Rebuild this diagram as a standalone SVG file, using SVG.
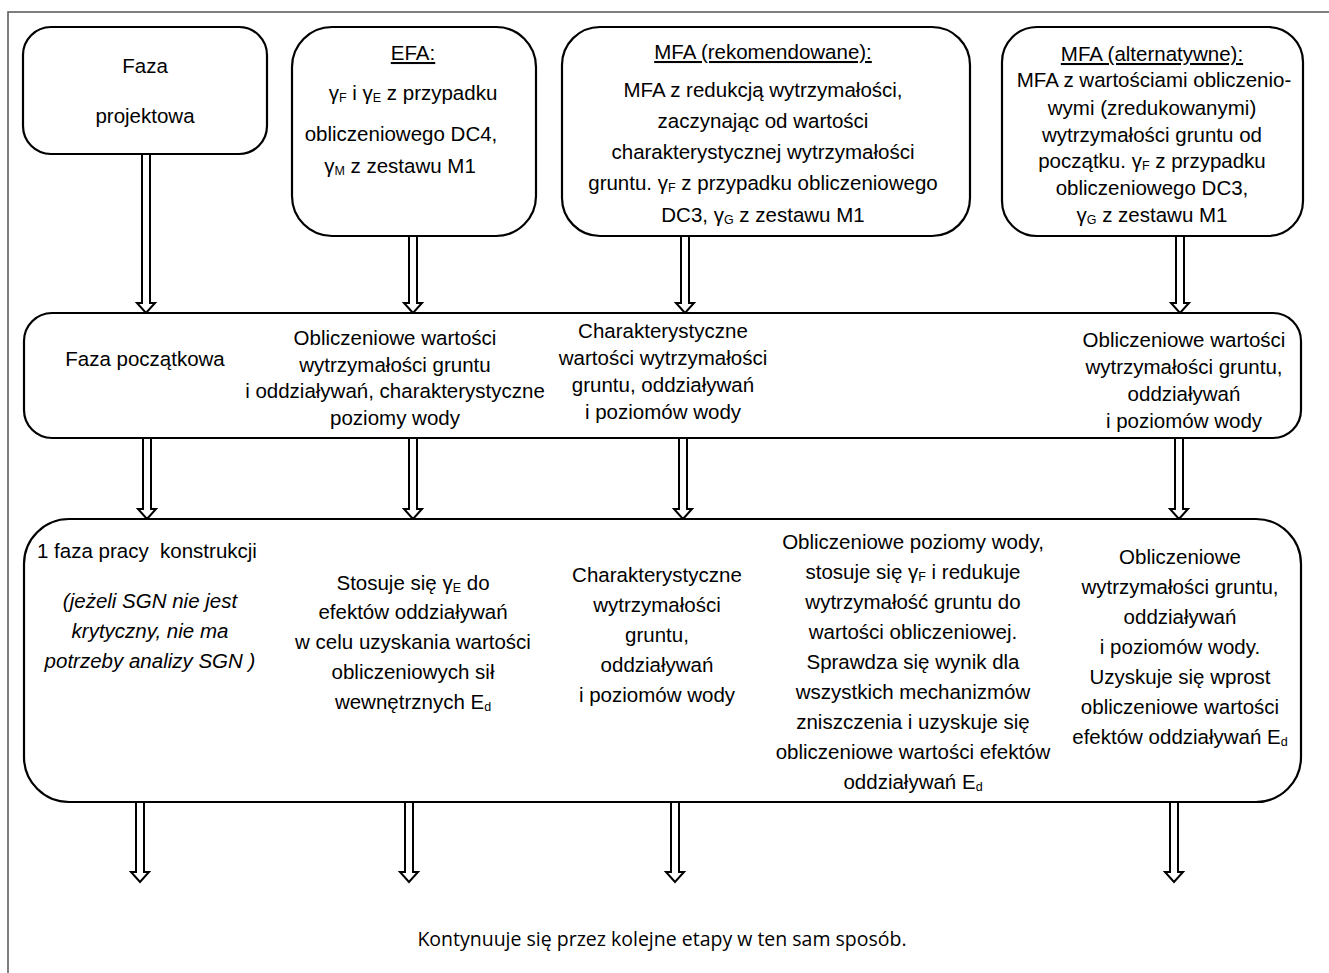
<svg xmlns="http://www.w3.org/2000/svg" width="1329" height="973" viewBox="0 0 1329 973">
<style>
.box{fill:#fff;stroke:#000;stroke-width:2.2}
.arr{fill:#fff;stroke:#000;stroke-width:2;stroke-linejoin:miter}
.frame{fill:none;stroke:#555;stroke-width:1.5}
text{font-family:"Liberation Sans",Arial,sans-serif;font-size:20.5px;fill:#000}
.c{text-anchor:middle}
.u{text-decoration:underline}
.i{font-style:italic}
.s{font-size:12.5px;baseline-shift:-2px}
.big{font-family:"Open Sans","Liberation Sans",sans-serif;font-size:19.5px}
</style>
<rect width="1329" height="973" fill="#fff"/>
<g id="frame"><path class="frame" d="M8 973 V12 H1329"/></g>

<g id="connectors">
<path class="arr" d="M142 154 V303 H137 L146 313 L155 303 H150 V154 Z"/>
<path class="arr" d="M409 236 V303 H404 L413 313 L422 303 H417 V236 Z"/>
<path class="arr" d="M681 236 V303 H676 L685 313 L694 303 H689 V236 Z"/>
<path class="arr" d="M1176 236 V303 H1171 L1180 313 L1189 303 H1184 V236 Z"/>
<path class="arr" d="M143 438 V509 H138 L147 519 L156 509 H151 V438 Z"/>
<path class="arr" d="M409 438 V509 H404 L413 519 L422 509 H417 V438 Z"/>
<path class="arr" d="M679 438 V509 H674 L683 519 L692 509 H687 V438 Z"/>
<path class="arr" d="M1175 438 V509 H1170 L1179 519 L1188 509 H1183 V438 Z"/>
<path class="arr" d="M136 802 V872 H131 L140 882 L149 872 H144 V802 Z"/>
<path class="arr" d="M405 802 V872 H400 L409 882 L418 872 H413 V802 Z"/>
<path class="arr" d="M671 802 V872 H666 L675 882 L684 872 H679 V802 Z"/>
<path class="arr" d="M1170 802 V872 H1165 L1174 882 L1183 872 H1178 V802 Z"/>
<path class="arr" d="M730 625 H758 V619 L772 629 L758 639 V633 H730 Z"/>
</g>

<g id="faza-projektowa">
<rect class="box" x="23" y="27" width="244" height="127" rx="28"/>
<text class="c" x="145" y="73">Faza</text>
<text class="c" x="145" y="123">projektowa</text>
</g>

<g id="efa">
<rect class="box" x="292" y="27" width="244" height="209" rx="40"/>
<text class="c u" x="413" y="60">EFA:</text>
<text class="c" x="413" y="100">γ<tspan class="s">F</tspan> i γ<tspan class="s">E</tspan> z przypadku</text>
<text class="c" x="401" y="141">obliczeniowego DC4,</text>
<text class="c" x="400" y="173">γ<tspan class="s">M</tspan> z zestawu M1</text>
</g>

<g id="mfa-rekomendowane">
<rect class="box" x="562" y="27" width="408" height="209" rx="38"/>
<text class="c u" x="763" y="59">MFA (rekomendowane):</text>
<text class="c" x="763" y="97">MFA z redukcją wytrzymałości,</text>
<text class="c" x="763" y="128">zaczynając od wartości</text>
<text class="c" x="763" y="159">charakterystycznej wytrzymałości</text>
<text class="c" x="763" y="190">gruntu. γ<tspan class="s">F</tspan> z przypadku obliczeniowego</text>
<text class="c" x="763" y="222">DC3, γ<tspan class="s">G</tspan> z zestawu M1</text>
</g>

<g id="mfa-alternatywne">
<rect class="box" x="1002" y="27" width="301" height="209" rx="35"/>
<text class="c u" x="1152" y="61">MFA (alternatywne):</text>
<text class="c" x="1154" y="87">MFA z wartościami obliczenio-</text>
<text class="c" x="1152" y="115">wymi (zredukowanymi)</text>
<text class="c" x="1152" y="142">wytrzymałości gruntu od</text>
<text class="c" x="1152" y="168">początku. γ<tspan class="s">F</tspan> z przypadku</text>
<text class="c" x="1152" y="195">obliczeniowego DC3,</text>
<text class="c" x="1152" y="222">γ<tspan class="s">G</tspan> z zestawu M1</text>
</g>

<g id="faza-poczatkowa">
<rect class="box" x="24" y="313" width="1277" height="125" rx="28"/>
<text class="c" x="145" y="366">Faza początkowa</text>
<text class="c" x="395" y="345">Obliczeniowe wartości</text>
<text class="c" x="395" y="372">wytrzymałości gruntu</text>
<text class="c" x="395" y="398">i oddziaływań, charakterystyczne</text>
<text class="c" x="395" y="425">poziomy wody</text>
<text class="c" x="663" y="338">Charakterystyczne</text>
<text class="c" x="663" y="365">wartości wytrzymałości</text>
<text class="c" x="663" y="392">gruntu, oddziaływań</text>
<text class="c" x="663" y="419">i poziomów wody</text>
<text class="c" x="1184" y="347">Obliczeniowe wartości</text>
<text class="c" x="1184" y="374">wytrzymałości gruntu,</text>
<text class="c" x="1184" y="401">oddziaływań</text>
<text class="c" x="1184" y="428">i poziomów wody</text>
</g>

<g id="faza-pracy">
<rect class="box" x="24" y="519" width="1277" height="283" rx="45"/>
<text x="37" y="558" xml:space="preserve">1 faza pracy  konstrukcji</text>
<text class="c i" x="150" y="608">(jeżeli SGN nie jest</text>
<text class="c i" x="150" y="638">krytyczny, nie ma</text>
<text class="c i" x="150" y="668">potrzeby analizy SGN )</text>
<text class="c" x="413" y="590">Stosuje się γ<tspan class="s">E</tspan> do</text>
<text class="c" x="413" y="619">efektów oddziaływań</text>
<text class="c" x="413" y="649">w celu uzyskania wartości</text>
<text class="c" x="413" y="679">obliczeniowych sił</text>
<text class="c" x="413" y="709">wewnętrznych E<tspan class="s">d</tspan></text>
<text class="c" x="657" y="582">Charakterystyczne</text>
<text class="c" x="657" y="612">wytrzymałości</text>
<text class="c" x="657" y="642">gruntu,</text>
<text class="c" x="657" y="672">oddziaływań</text>
<text class="c" x="657" y="702">i poziomów wody</text>
<text class="c" x="913" y="549">Obliczeniowe poziomy wody,</text>
<text class="c" x="913" y="579">stosuje się γ<tspan class="s">F</tspan> i redukuje</text>
<text class="c" x="913" y="609">wytrzymałość gruntu do</text>
<text class="c" x="913" y="639">wartości obliczeniowej.</text>
<text class="c" x="913" y="669">Sprawdza się wynik dla</text>
<text class="c" x="913" y="699">wszystkich mechanizmów</text>
<text class="c" x="913" y="729">zniszczenia i uzyskuje się</text>
<text class="c" x="913" y="759">obliczeniowe wartości efektów</text>
<text class="c" x="913" y="789">oddziaływań E<tspan class="s">d</tspan></text>
<text class="c" x="1180" y="564">Obliczeniowe</text>
<text class="c" x="1180" y="594">wytrzymałości gruntu,</text>
<text class="c" x="1180" y="624">oddziaływań</text>
<text class="c" x="1180" y="654">i poziomów wody.</text>
<text class="c" x="1180" y="684">Uzyskuje się wprost</text>
<text class="c" x="1180" y="714">obliczeniowe wartości</text>
<text class="c" x="1180" y="744">efektów oddziaływań E<tspan class="s">d</tspan></text>
</g>

<g id="kontynuacja">
<text class="c big" x="662" y="946">Kontynuuje się przez kolejne etapy w ten sam sposób.</text>
</g>
</svg>
